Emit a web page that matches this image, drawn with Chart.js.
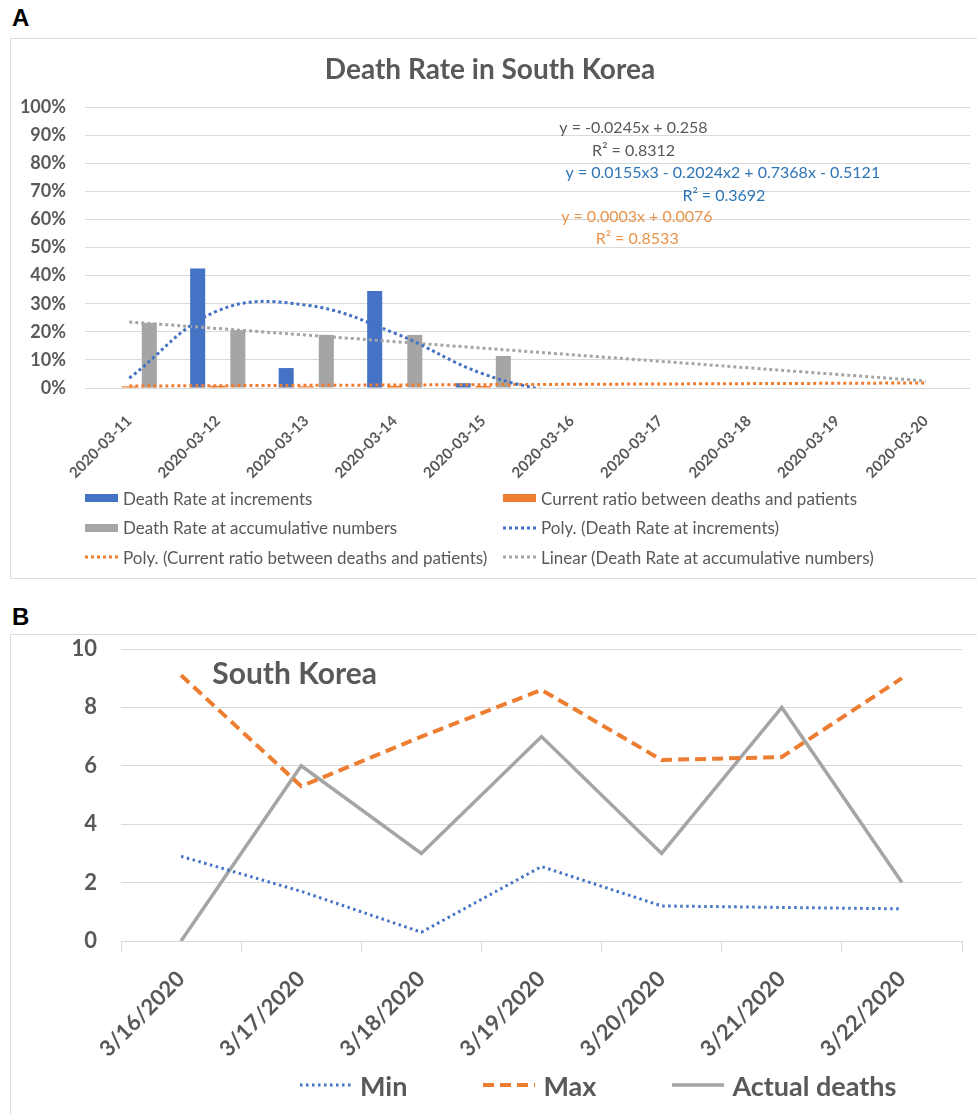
<!DOCTYPE html>
<html>
<head>
<meta charset="utf-8">
<script src="https://cdn.jsdelivr.net/npm/chart.js@4.4.0/dist/chart.umd.min.js"></script>
<style>
  body { margin: 0; background: #fff; width: 977px; height: 1114px; overflow: hidden; position: relative; font-family: Lato, sans-serif; }
  .tag { position: absolute; left: 12px; font: bold 24px 'Liberation Sans', Arial, sans-serif; color: #000; line-height: 24px; }
  .panel { position: absolute; left: 10px; width: 990px; border: 1px solid #dadada; box-sizing: border-box; }
  canvas { position: absolute; left: 10px; }
  .legendA { position: absolute; left: 85px; top: 486px; display: grid; grid-template-columns: 418px 420px; row-gap: 5px; color: #595959; font-size: 17px; }
  .legendA div { display: flex; align-items: center; height: 24.5px; white-space: nowrap; }
  .legendA svg { margin-right: 5px; }
  .legendB { position: absolute; left: 300px; top: 1070px; display: flex; gap: 76px; color: #595959; font-size: 27px; font-weight: bold; }
  .legendB div { display: flex; align-items: center; height: 30px; white-space: nowrap; }
  .legendB svg { margin-right: 8px; }
</style>
</head>
<body>
<div class="tag" style="top:6px">A</div>
<div class="panel" style="top:38px;height:541px"></div>
<canvas id="chartA" width="967" height="450" style="top:38px"></canvas>
<div class="legendA" id="legendA"></div>

<div class="tag" style="top:605px">B</div>
<div class="panel" style="top:634px;height:500px"></div>
<canvas id="chartB" width="967" height="480" style="top:634px"></canvas>
<div class="legendB" id="legendB"></div>

<script>
// ---- Panel A data (percent) ----
const datesA = ['2020-03-11', '2020-03-12', '2020-03-13', '2020-03-14', '2020-03-15',
  '2020-03-16', '2020-03-17', '2020-03-18', '2020-03-19', '2020-03-20'];
const incrementRate = [0, 42.5, 7.1, 34.5, 1.7, null, null, null, null, null];
const currentRatio = [0.6, 0.8, 0.6, 0.8, 0.7, null, null, null, null, null];
const accumulativeRate = [23.1, 20.6, 18.9, 18.9, 11.4, null, null, null, null, null];
// trendlines
const polyIncrements = [3.5, 27.5, 29.5, 19.5, 5, -3, null, null, null, null];
const polyCurrent = [0.7, null, null, null, null, null, null, null, null, 1.8];
const linearAccumulative = [23.5, null, null, null, null, null, null, null, null, 2.5];
const equationsA = ['y = -0.0245x + 0.258', 'R\u00b2 = 0.8312',
  'y = 0.0155x3 - 0.2024x2 + 0.7368x - 0.5121', 'R\u00b2 = 0.3692',
  'y = 0.0003x + 0.0076', 'R\u00b2 = 0.8533'];

// ---- Panel B data ----
const datesB = ['3/16/2020', '3/17/2020', '3/18/2020', '3/19/2020', '3/20/2020', '3/21/2020', '3/22/2020'];
const minDeaths = [2.9, 1.7, 0.3, 2.55, 1.2, 1.15, 1.1];
const maxDeaths = [9.1, 5.3, 7.0, 8.6, 6.2, 6.3, 9.0];
const actualDeaths = [0, 6, 3, 7, 3, 8, 2];

const BLUE = '#4472C4', ORANGE = '#ED7D31', GRAY = '#A5A5A5', TEXT = '#595959', GRID = '#d9d9d9';

Chart.defaults.font.family = 'Lato, sans-serif';
Chart.defaults.color = TEXT;

// equation labels sit in the plot, placed through the chart's scales
const equationPlugin = {
  id: 'equations',
  afterDatasetsDraw(chart) {
    const { ctx, scales: { x, y } } = chart;
    const spots = [[4.86, 92.5, TEXT], [5.23, 84.3, TEXT], [4.93, 76.5, '#2E75B6'],
      [6.25, 68.3, '#2E75B6'], [4.88, 60.9, '#E8944C'], [5.27, 53.0, '#E8944C']];
    ctx.save();
    ctx.font = '16px Lato';
    ctx.textBaseline = 'middle';
    equationsA.forEach((t, i) => {
      ctx.fillStyle = spots[i][2];
      ctx.fillText(t, x.getPixelForValue(spots[i][0]), y.getPixelForValue(spots[i][1]));
    });
    ctx.restore();
  }
};

const barDs = (label, data, color) => ({
  type: 'bar', label, data, backgroundColor: color, order: 1,
  categoryPercentage: 0.68, barPercentage: 0.75
});
const trendDs = (label, data, color) => ({
  type: 'line', label, data, borderColor: color, backgroundColor: color, borderWidth: 3,
  borderDash: [3, 3], pointRadius: 0, tension: 0.4, spanGaps: true, order: 0, fill: false
});

const chartA = new Chart(document.getElementById('chartA'), {
  type: 'bar',
  data: {
    labels: datesA,
    datasets: [
      barDs('Death Rate at increments', incrementRate, BLUE),
      barDs('Current ratio between deaths and patients', currentRatio, ORANGE),
      barDs('Death Rate at accumulative numbers', accumulativeRate, GRAY),
      trendDs('Poly. (Death Rate at increments)', polyIncrements, BLUE),
      trendDs('Poly. (Current ratio between deaths and patients)', polyCurrent, ORANGE),
      trendDs('Linear (Death Rate at accumulative numbers)', linearAccumulative, GRAY)
    ]
  },
  options: {
    responsive: false,
    animation: false,
    layout: { padding: { right: 7 } },
    plugins: {
      legend: { display: false },
      tooltip: { enabled: false },
      title: {
        display: true, text: 'Death Rate in South Korea', color: TEXT,
        font: { size: 28, weight: 'bold' }, padding: { top: 15, bottom: 20.4 }
      }
    },
    scales: {
      x: {
        grid: { display: false },
        border: { display: false },
        ticks: { font: { size: 15, weight: 'bold' }, color: TEXT, minRotation: 45, maxRotation: 45, autoSkip: false, padding: 16 },
        afterFit: s => { s.height = 100; }
      },
      y: {
        min: 0, max: 100,
        grid: { color: GRID, drawTicks: false },
        border: { display: false },
        ticks: { stepSize: 10, padding: 19, font: { size: 18, weight: 'bold' }, color: TEXT, callback: v => v + '%' },
        afterFit: s => { s.width = 75; }
      }
    }
  },
  plugins: [equationPlugin]
});

const titlePluginB = {
  id: 'countryTitle',
  afterDatasetsDraw(chart) {
    const { ctx, scales: { x, y } } = chart;
    ctx.save();
    ctx.font = 'bold 30px Lato';
    ctx.fillStyle = TEXT;
    ctx.textBaseline = 'middle';
    ctx.fillText('South Korea', x.getPixelForValue(0.26), y.getPixelForValue(9.14));
    ctx.restore();
  }
};

const chartB = new Chart(document.getElementById('chartB'), {
  type: 'line',
  data: {
    labels: datesB,
    datasets: [
      { label: 'Min', data: minDeaths, borderColor: BLUE, borderWidth: 3, borderDash: [2.5, 3.5], pointRadius: 0, tension: 0 },
      { label: 'Max', data: maxDeaths, borderColor: ORANGE, borderWidth: 4, borderDash: [11, 6], pointRadius: 0, tension: 0 },
      { label: 'Actual deaths', data: actualDeaths, borderColor: GRAY, borderWidth: 3.5, pointRadius: 0, tension: 0 }
    ]
  },
  options: {
    responsive: false,
    animation: false,
    layout: { padding: { top: 15, right: 15 } },
    plugins: { legend: { display: false }, tooltip: { enabled: false } },
    scales: {
      x: {
        offset: true,
        grid: { offset: true, drawOnChartArea: false, tickLength: 11, color: GRID },
        border: { display: true, color: GRID },
        ticks: { font: { size: 22, weight: 'bold' }, color: TEXT, minRotation: 45, maxRotation: 45, autoSkip: false, padding: 14 },
        afterFit: s => { s.height = 173; }
      },
      y: {
        min: 0, max: 10,
        grid: { color: GRID, drawTicks: false },
        border: { display: false },
        ticks: { stepSize: 2, padding: 24, font: { size: 22, weight: 'bold' }, color: TEXT },
        afterFit: s => { s.width = 111; s.paddingTop = 0; s.paddingBottom = 0; }
      }
    }
  },
  plugins: [titlePluginB]
});

// HTML legends built from the chart datasets
function icon(ds, w) {
  if (ds.type === 'bar') {
    return `<svg width="${w}" height="10"><rect x="0" y="1" width="${w}" height="8" fill="${ds.backgroundColor}"/></svg>`;
  }
  const dash = ds.borderDash ? `stroke-dasharray="${ds.borderDash.join(' ')}"` : '';
  return `<svg width="${w}" height="10"><line x1="0" y1="5" x2="${w}" y2="5" stroke="${ds.borderColor}" stroke-width="${ds.borderWidth}" ${dash}/></svg>`;
}
document.getElementById('legendA').innerHTML = chartA.data.datasets
  .map(ds => `<div>${icon(ds, 33)}<span>${ds.label}</span></div>`).join('');
document.getElementById('legendB').innerHTML = chartB.data.datasets
  .map(ds => `<div>${icon(ds, 52)}<span>${ds.label}</span></div>`).join('');
</script>
</body>
</html>
